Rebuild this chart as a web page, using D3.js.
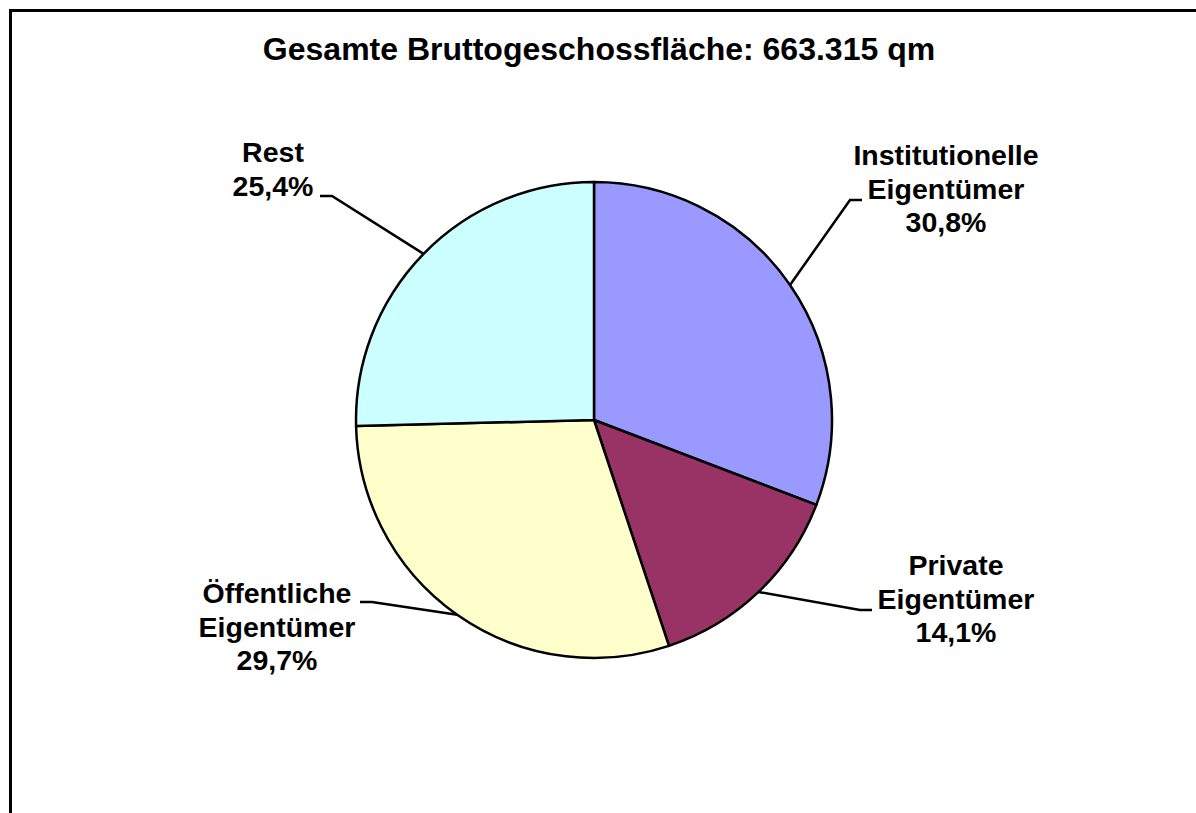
<!DOCTYPE html>
<html>
<head>
<meta charset="utf-8">
<script src="https://cdn.jsdelivr.net/npm/d3@7"></script>
<style>
  body { margin: 0; background: #fff; }
  text { font-family: "Liberation Sans", Arial, sans-serif; font-weight: bold; fill: #000; }
</style>
</head>
<body>
<div id="chart"></div>
<script>
// data
const title = "Gesamte Bruttogeschossfläche: 663.315 qm";
const categories = ["Institutionelle Eigentümer", "Private Eigentümer", "Öffentliche Eigentümer", "Rest"];
const shares = [30.8, 14.1, 29.7, 25.4];
const labelLines = [["Institutionelle", "Eigentümer"], ["Private", "Eigentümer"], ["Öffentliche", "Eigentümer"], ["Rest"]];
const colors = ["#9999FF", "#993366", "#FFFFCC", "#CCFFFF"];

// layout of the labels (first-line baseline, centre x) and leader elbows
const labelLayout = [
  { x: 946, y: 165, elbow: [850, 200], end: [862, 200] },
  { x: 956, y: 575, elbow: [860, 610], end: [872, 610] },
  { x: 277, y: 603, elbow: [372, 602], end: [360, 602] },
  { x: 273, y: 162, elbow: [332, 196], end: [320, 196] }
];

const width = 1196, height = 813;
const cx = 594, cy = 420, radius = 238;
const lineHeight = 33.5;

const svg = d3.select("#chart").append("svg")
  .attr("width", width)
  .attr("height", height);

// outer frame (runs off the right and bottom edges)
svg.append("rect")
  .attr("x", 10.5).attr("y", 10.5)
  .attr("width", 1300).attr("height", 900)
  .attr("fill", "none")
  .attr("stroke", "#000")
  .attr("stroke-width", 3);

svg.append("text")
  .attr("x", 599).attr("y", 60)
  .attr("text-anchor", "middle")
  .style("font-size", "32px")
  .text(title);

const fmt = (v) => v.toFixed(1).replace(".", ",") + "%";

const pie = d3.pie().sort(null).value((d) => d)(shares);
const arc = d3.arc().innerRadius(0).outerRadius(radius);
const edge = d3.arc().innerRadius(radius).outerRadius(radius);

const g = svg.append("g").attr("transform", `translate(${cx},${cy})`);

g.selectAll("path.slice")
  .data(pie)
  .enter().append("path")
    .attr("class", "slice")
    .attr("d", arc)
    .attr("fill", (d, i) => colors[i])
    .attr("stroke", "#000")
    .attr("stroke-width", 2.5)
    .attr("stroke-linejoin", "round");

// leader lines
svg.selectAll("polyline.leader")
  .data(pie)
  .enter().append("polyline")
    .attr("class", "leader")
    .attr("points", (d, i) => {
      const c = edge.centroid(d);
      const L = labelLayout[i];
      return [[cx + c[0], cy + c[1]], L.elbow, L.end].map((p) => p.join(",")).join(" ");
    })
    .attr("fill", "none")
    .attr("stroke", "#000")
    .attr("stroke-width", 2.5);

// labels
categories.forEach((cat, i) => {
  const L = labelLayout[i];
  const lines = labelLines[i].concat([fmt(shares[i])]);
  const t = svg.append("text")
    .attr("text-anchor", "middle")
    .style("font-size", "28.5px");
  lines.forEach((s, j) => {
    t.append("tspan")
      .attr("x", L.x)
      .attr("y", L.y + j * lineHeight)
      .text(s);
  });
});
</script>
</body>
</html>
